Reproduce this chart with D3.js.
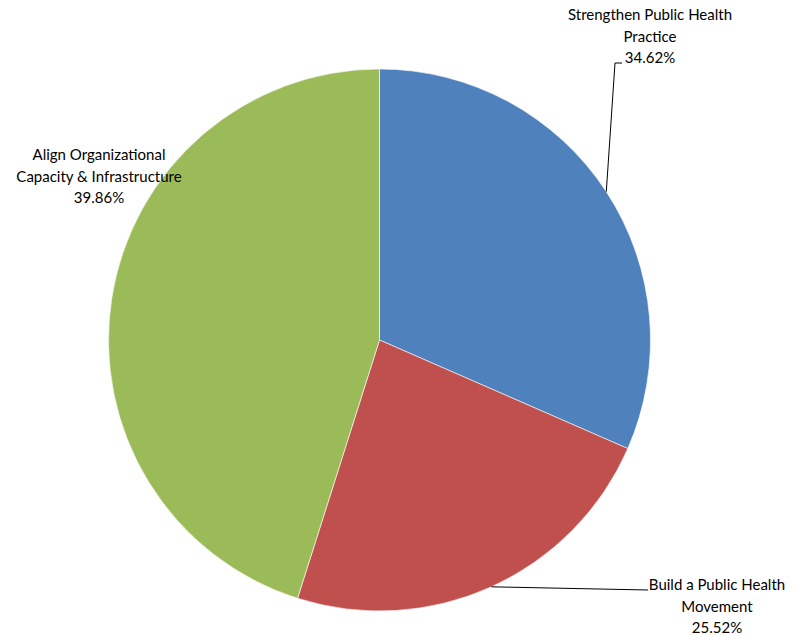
<!DOCTYPE html>
<html>
<head>
<meta charset="utf-8">
<script src="https://cdn.jsdelivr.net/npm/d3@7"></script>
<style>
  body { margin: 0; background: #fff; }
  svg text { font-family: Lato, "Liberation Sans", Arial, sans-serif; font-size: 15px; fill: #000; }
</style>
</head>
<body>
<div class="chart"></div>
<script>
// slice sizes as drawn, and the percent labels printed beside them
var categories = ["Strengthen Public Health Practice", "Build a Public Health Movement", "Align Organizational Capacity & Infrastructure"];
var labelLines = [["Strengthen Public Health", "Practice"], ["Build a Public Health", "Movement"], ["Align Organizational", "Capacity & Infrastructure"]];
var sliceValues = [31.56, 23.33, 45.11];
var percentLabels = ["34.62%", "25.52%", "39.86%"];
var colors = ["#4F81BD", "#C0504D", "#9BBB59"];

var w = 795,
	h = 636,
	cx = 379.5,
	cy = 340,
	radius = 271;

var svg = d3.select(".chart").append("svg").attr("width", w).attr("height", h);

var pie = d3.pie().sort(null).value((d) => d)(sliceValues);
var arc = d3.arc().innerRadius(0).outerRadius(radius);

var g = svg.append("g").attr("transform", "translate(" + cx + "," + cy + ")");

g.selectAll("path")
	.data(pie)
	.enter()
	.append("path")
	.attr("d", arc)
	.attr("fill", (d, i) => colors[i])
	.attr("stroke", "#fff")
	.attr("stroke-width", 0.6);

// label positions (page coords) and leader lines
var labelPos = [
	{ x: 650, y: 20 },
	{ x: 717, y: 590 },
	{ x: 99, y: 160 }
];

function edgePoint(d, frac) {
	var a = d.startAngle + (d.endAngle - d.startAngle) * frac;
	return [cx + radius * Math.sin(a), cy - radius * Math.cos(a)];
}

// blue leader: edge -> up -> short tick into label
var pb = edgePoint(pie[0], 0.5);
svg.append("polyline")
	.attr("points", [pb, [615, 63], [622, 63]].map((p) => p.join(",")).join(" "))
	.attr("fill", "none")
	.attr("stroke", "#000")
	.attr("stroke-width", 1);

// red leader
var pr = edgePoint(pie[1], 0.5);
svg.append("polyline")
	.attr("points", [pr, [648, 590]].map((p) => p.join(",")).join(" "))
	.attr("fill", "none")
	.attr("stroke", "#000")
	.attr("stroke-width", 1);

labelPos.forEach(function (p, i) {
	var t = svg.append("text").attr("text-anchor", "middle");
	var lines = labelLines[i].concat([percentLabels[i]]);
	lines.forEach(function (ln, j) {
		t.append("tspan")
			.attr("x", p.x)
			.attr("y", p.y + j * 21.5)
			.text(ln);
	});
});
</script>
</body>
</html>
